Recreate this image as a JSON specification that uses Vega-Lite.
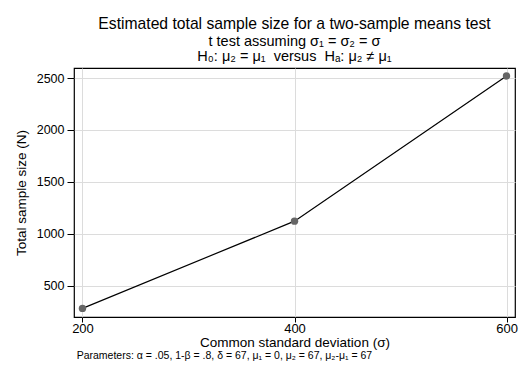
{
  "$schema": "https://vega.github.io/schema/vega-lite/v6.json",
  "width": 441,
  "height": 249,
  "autosize": {"type": "none"},
  "padding": {"left": 74, "top": 68, "right": 12, "bottom": 66},
  "background": "white",
  "config": {
    "font": "Liberation Sans",
    "view": {"stroke": "black", "strokeWidth": 1.2},
    "axis": {
      "domain": false,
      "gridColor": "#dcdcdc",
      "gridWidth": 1,
      "tickColor": "black",
      "labelFont": "Liberation Sans",
      "labelFontSize": 13,
      "labelColor": "black",
      "titleFont": "Liberation Sans",
      "titleFontSize": 13.5,
      "titleFontWeight": "normal",
      "titleColor": "black"
    }
  },
  "title": {
    "text": "Estimated total sample size for a two-sample means test",
    "subtitle": ["t test assuming σ₁ = σ₂ = σ", "H₀: μ₂ = μ₁ \u00a0versus \u00a0Hₐ: μ₂ ≠ μ₁"],
    "font": "Liberation Sans",
    "fontSize": 15.7,
    "fontWeight": "normal",
    "color": "black",
    "subtitleFont": "Liberation Sans",
    "subtitleFontSize": 14.5,
    "subtitleColor": "black",
    "subtitlePadding": 2,
    "subtitleLineHeight": 15,
    "anchor": "middle",
    "offset": 4
  },
  "data": {
    "values": [
      {"sd": 200, "N": 282},
      {"sd": 400, "N": 1122},
      {"sd": 600, "N": 2520}
    ]
  },
  "encoding": {
    "x": {
      "field": "sd",
      "type": "quantitative",
      "scale": {"domain": [192, 608], "nice": false, "zero": false},
      "axis": {"values": [200, 400, 600], "format": "d", "tickSize": 5, "title": "Common standard deviation (σ)", "titlePadding": 0, "labelPadding": 0}
    },
    "y": {
      "field": "N",
      "type": "quantitative",
      "scale": {"domain": [199, 2597], "nice": false, "zero": false},
      "axis": {"values": [500, 1000, 1500, 2000, 2500], "format": "d", "tickSize": 7, "labelFontSize": 12.5, "title": "Total sample size (N)", "titlePadding": 8, "labelPadding": 3}
    }
  },
  "layer": [
    {"mark": {"type": "line", "color": "black", "strokeWidth": 1.2}},
    {"mark": {"type": "point", "filled": true, "color": "#666666", "size": 55, "opacity": 1}},
    {
      "data": {"values": [{"sd": 194.5, "N": -178, "note": "Parameters: α = .05, 1-β = .8, δ = 67, μ₁ = 0, μ₂ = 67, μ₂-μ₁ = 67"}]},
      "mark": {"type": "text", "align": "left", "baseline": "middle", "fontSize": 10.5, "font": "Liberation Sans", "color": "black", "clip": false},
      "encoding": {
        "text": {"field": "note", "type": "nominal"}
      }
    }
  ]
}
